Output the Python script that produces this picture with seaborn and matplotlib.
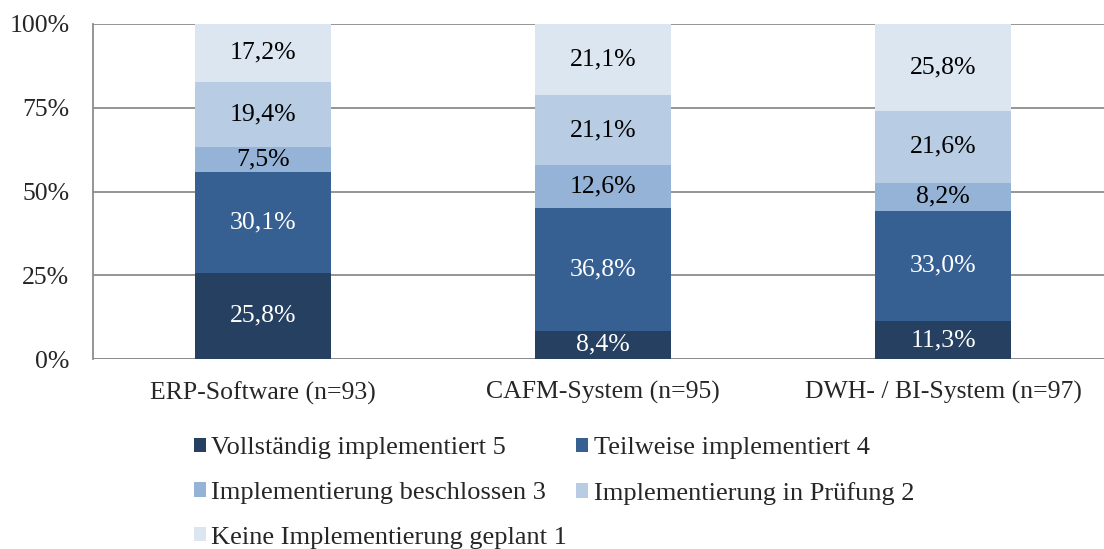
import numpy as np
import pandas as pd
import matplotlib.pyplot as plt
import seaborn as sns
from matplotlib.patches import Patch
from matplotlib.ticker import FixedLocator

categories = ["ERP-Software (n=93)", "CAFM-System (n=95)", "DWH- / BI-System (n=97)"]
series = [
    "Vollständig implementiert 5",
    "Teilweise implementiert 4",
    "Implementierung beschlossen 3",
    "Implementierung in Prüfung 2",
    "Keine Implementierung geplant 1",
]
vollstaendig = [25.8, 8.4, 11.3]
teilweise = [30.1, 36.8, 33.0]
beschlossen = [7.5, 12.6, 8.2]
pruefung = [19.4, 21.1, 21.6]
keine = [17.2, 21.1, 25.8]

colors = ["#254061", "#366092", "#95b3d7", "#b8cce4", "#dce6f1"]
text_colors = ["white", "white", "black", "black", "black"]

sns.set_style("white")
plt.rcParams["font.family"] = ["Liberation Serif", "DejaVu Serif"]

values = np.array([vollstaendig, teilweise, beschlossen, pruefung, keine])
cum = values.cumsum(axis=0)

fig = plt.figure(figsize=(11.04, 5.49), dpi=100)
ax = fig.add_axes([93 / 1104, 190 / 549, 1011 / 1104, 335 / 549])

# draw tallest stack first, then the lower layers over it
for i in range(len(series) - 1, -1, -1):
    df = pd.DataFrame({"cat": categories, "val": cum[i]})
    sns.barplot(data=df, x="cat", y="val", color=colors[i], width=0.4,
                saturation=1, linewidth=0, ax=ax, zorder=2)

for i in range(len(series)):
    for j in range(len(categories)):
        ax.text(j, cum[i, j] - values[i, j] / 2,
                f"{values[i, j]:.1f}".replace(".", ",") + "%",
                ha="center", va="center", fontsize=18.5, color=text_colors[i], zorder=3)

ax.set_ylim(0, 100)
ax.set_xlim(-0.5, 2.5 - 9 / 340)
ax.set_yticks([0, 25, 50, 75, 100])
ax.set_yticklabels(["0%", "25%", "50%", "75%", "100%"])
ax.set_xlabel("")
ax.set_ylabel("")
ax.grid(axis="y", color="#8c8c8c", linewidth=1.3, zorder=0)
ax.set_axisbelow(True)
for s in ["top", "right", "bottom"]:
    ax.spines[s].set_visible(False)
ax.spines["left"].set_color("#8c8c8c")
ax.spines["left"].set_linewidth(1.3)
ax.axhline(0, color="#8c8c8c", linewidth=1.3, zorder=1)

ax.tick_params(axis="y", length=7, width=1.3, color="#8c8c8c", labelsize=18.5, pad=10)
ax.tick_params(axis="x", which="major", length=0, labelsize=18.5, pad=16)
ax.xaxis.set_minor_locator(FixedLocator([-0.5, 0.5, 1.5]))
ax.tick_params(axis="x", which="minor", length=8, width=1.3, color="#8c8c8c", direction="out")

handles = [Patch(facecolor=c, edgecolor="none") for c in colors]
order = [0, 2, 4, 1, 3]
fig.legend([handles[k] for k in order], [series[k] for k in order],
           ncol=2, loc="upper left", bbox_to_anchor=(181 / 1104, 1 - 424 / 549),
           frameon=False, fontsize=19, handlelength=0.45, handleheight=0.45,
           handletextpad=0.2, columnspacing=0.35, labelspacing=0.86, borderpad=0)

fig.savefig("out.png", dpi=100)
